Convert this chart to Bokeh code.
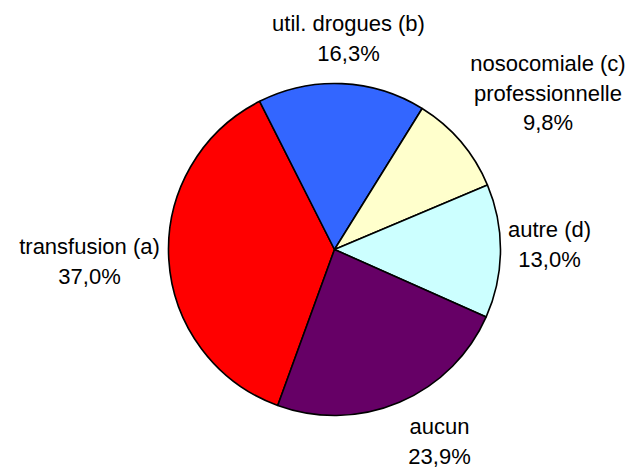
import numpy as np
from bokeh.plotting import figure
from bokeh.models import ColumnDataSource, Range1d
from bokeh.embed import file_html
from bokeh.resources import INLINE
from bokeh.core.properties import value

# ---- data ----
categories = ["transfusion (a)", "util. drogues (b)", "nosocomiale (c)\nprofessionnelle", "autre (d)", "aucun"]
percent = [37.0, 16.3, 9.8, 13.0, 23.9]
colors = ["#FF0000", "#3366FF", "#FFFFCC", "#CCFFFF", "#660066"]

# ---- layout constants (pixels) ----
W, H = 628, 469
cx, cy = 334, H - 249          # pie centre in data (= pixel) coordinates
R = 166
start_deg = 200.0              # first slice starts here, clockwise from 12 o'clock
label_offsets = [(-245, -3), (14, -226), (213.5, -186), (215, -20), (105, 177)]  # first line, rel. to centre (y down)
line_gap = 29.5
font = "Liberation Sans"
font_size = "22px"

frac = np.array(percent) / sum(percent)
cum = np.concatenate([[0.0], np.cumsum(frac)])
c_start = start_deg + 360 * cum[:-1]
c_end = start_deg + 360 * cum[1:]

src = ColumnDataSource(dict(
    cat=[c.replace("\n", " ") for c in categories],
    pct=percent,
    color=colors,
    start=np.radians(90 - c_start),
    end=np.radians(90 - c_end),
))

p = figure(width=W, height=H, x_range=Range1d(0, W), y_range=Range1d(0, H),
           output_backend="svg", toolbar_location=None, min_border=0)
p.axis.visible = False
p.grid.visible = False
p.outline_line_color = None
p.background_fill_color = "white"
p.border_fill_color = "white"

p.wedge(x=cx, y=cy, radius=R, start_angle="start", end_angle="end", direction="clock",
        fill_color="color", line_color="black", line_width=1.6, source=src)

lx, ly, lt = [], [], []
for cat, pc, (dx, dy) in zip(categories, percent, label_offsets):
    lines = cat.split("\n") + [f"{pc:.1f}".replace(".", ",") + "%"]
    for i, t in enumerate(lines):
        lx.append(cx + dx)
        ly.append(cy - (dy + i * line_gap))
        lt.append(t)

p.text(x=lx, y=ly, text=lt, text_align="center", text_baseline="alphabetic",
       text_font=value(font), text_font_size=font_size, text_color="black")

open("out.html", "w").write(file_html(p, INLINE))
